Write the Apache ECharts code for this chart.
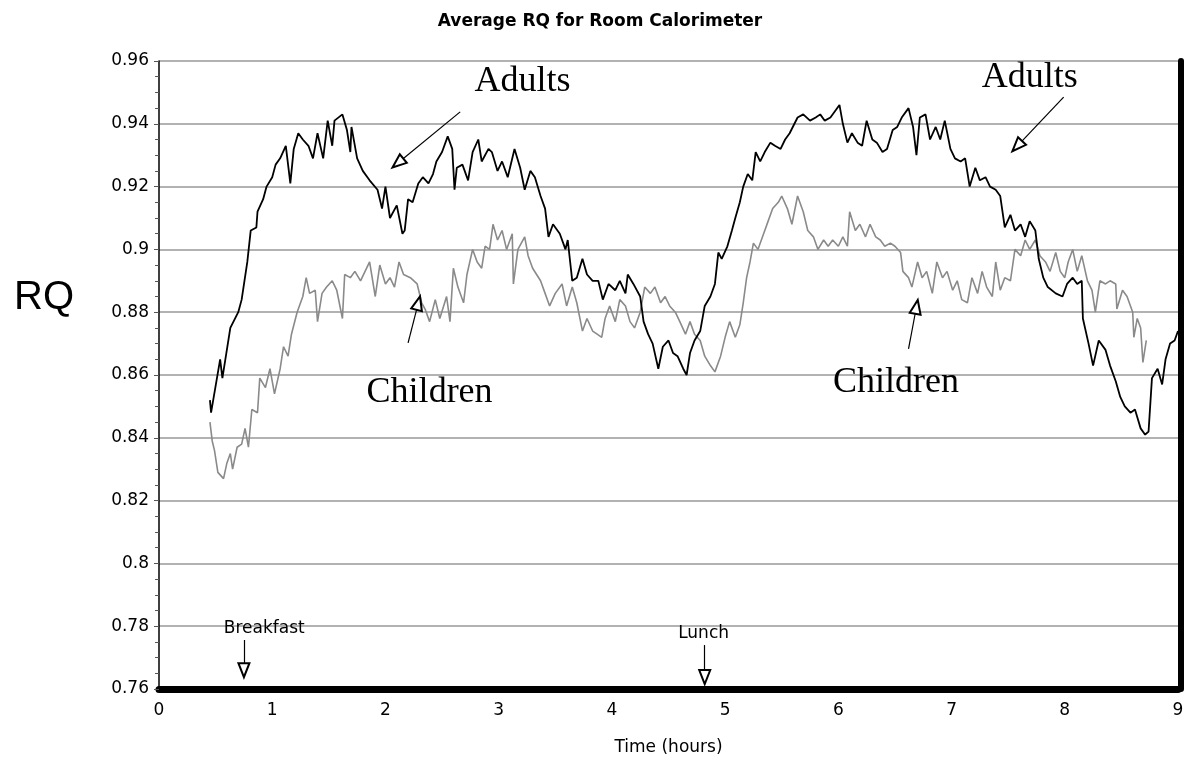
<!DOCTYPE html>
<html>
<head>
<meta charset="utf-8">
<title>Average RQ for Room Calorimeter</title>
<script src="https://cdn.jsdelivr.net/npm/echarts@6/dist/echarts.min.js"></script>
<style>
  html, body { margin: 0; padding: 0; background: #fff; }
  #chart { width: 1200px; height: 773px; }
</style>
</head>
<body>
<div id="chart"></div>
<script>
// time (hours) and RQ
const adultT = [0.45,0.46,0.54,0.56,0.63,0.70,0.73,0.78,0.81,0.86,0.87,0.92,0.95,1.00,1.03,1.07,1.12,1.16,1.19,1.23,
  1.27,1.32,1.36,1.40,1.45,1.49,1.53,1.55,1.62,1.66,1.69,1.70,1.75,1.80,1.86,1.93,1.97,2.00,2.04,2.10,
  2.15,2.17,2.20,2.24,2.29,2.33,2.38,2.42,2.45,2.50,2.55,2.59,2.61,2.63,2.68,2.73,2.77,2.82,2.85,2.91,
  2.94,2.99,3.03,3.08,3.14,3.19,3.23,3.28,3.32,3.37,3.41,3.44,3.48,3.54,3.59,3.61,3.65,3.69,3.74,3.78,
  3.83,3.88,3.92,3.97,4.03,4.07,4.12,4.14,4.19,4.25,4.28,4.32,4.36,4.41,4.45,4.50,4.54,4.58,4.63,4.66,
  4.69,4.73,4.78,4.82,4.87,4.91,4.94,4.97,5.02,5.06,5.09,5.13,5.16,5.20,5.24,5.27,5.31,5.35,5.40,5.44,
  5.49,5.53,5.57,5.64,5.69,5.75,5.80,5.84,5.88,5.93,5.97,6.01,6.04,6.08,6.12,6.17,6.21,6.25,6.30,6.34,
  6.39,6.43,6.48,6.52,6.56,6.62,6.66,6.69,6.72,6.77,6.81,6.86,6.90,6.94,6.99,7.03,7.08,7.12,7.16,7.21,
  7.25,7.30,7.34,7.39,7.43,7.47,7.52,7.56,7.61,7.65,7.69,7.74,7.77,7.81,7.85,7.92,7.98,8.02,8.07,8.11,
  8.15,8.16,8.21,8.25,8.30,8.36,8.40,8.45,8.49,8.53,8.58,8.62,8.67,8.71,8.74,8.77,8.82,8.86,8.89,8.93,
  8.97,9.00];
const adultRQ = [0.852,0.848,0.865,0.859,0.875,0.880,0.884,0.896,0.906,0.907,0.912,0.916,0.920,0.923,0.927,0.929,0.933,0.921,0.932,0.937,
  0.935,0.933,0.929,0.937,0.929,0.941,0.933,0.941,0.943,0.938,0.931,0.939,0.929,0.925,0.922,0.919,0.913,0.920,0.910,0.914,
  0.905,0.906,0.916,0.915,0.921,0.923,0.921,0.924,0.928,0.931,0.936,0.932,0.919,0.926,0.927,0.922,0.931,0.935,0.928,0.932,
  0.931,0.925,0.928,0.923,0.932,0.926,0.919,0.925,0.923,0.917,0.913,0.904,0.908,0.905,0.900,0.903,0.890,0.891,0.897,0.892,
  0.890,0.890,0.884,0.889,0.887,0.890,0.886,0.892,0.889,0.885,0.877,0.873,0.870,0.862,0.869,0.871,0.867,0.866,0.862,0.860,
  0.867,0.871,0.874,0.882,0.885,0.889,0.899,0.897,0.901,0.906,0.910,0.915,0.920,0.924,0.922,0.931,0.928,0.931,0.934,0.933,
  0.932,0.935,0.937,0.942,0.943,0.941,0.942,0.943,0.941,0.942,0.944,0.946,0.940,0.934,0.937,0.934,0.933,0.941,0.935,0.934,
  0.931,0.932,0.938,0.939,0.942,0.945,0.939,0.930,0.942,0.943,0.935,0.939,0.935,0.941,0.932,0.929,0.928,0.929,0.920,0.926,
  0.922,0.923,0.920,0.919,0.917,0.907,0.911,0.906,0.908,0.904,0.909,0.906,0.897,0.891,0.888,0.886,0.885,0.889,0.891,0.889,
  0.890,0.878,0.870,0.863,0.871,0.868,0.863,0.858,0.853,0.850,0.848,0.849,0.843,0.841,0.842,0.859,0.862,0.857,0.865,0.870,
  0.871,0.874];

const childT = [0.45,0.47,0.49,0.52,0.57,0.60,0.63,0.65,0.69,0.73,0.76,0.79,0.82,0.87,0.89,0.94,0.98,1.02,1.07,1.10,
  1.14,1.17,1.22,1.25,1.27,1.30,1.33,1.38,1.40,1.44,1.48,1.53,1.57,1.62,1.64,1.69,1.73,1.78,1.82,1.86,
  1.91,1.95,2.00,2.04,2.08,2.12,2.16,2.22,2.28,2.32,2.35,2.39,2.44,2.48,2.54,2.57,2.60,2.64,2.69,2.72,
  2.77,2.81,2.85,2.88,2.92,2.95,2.99,3.03,3.07,3.12,3.13,3.17,3.23,3.26,3.30,3.37,3.41,3.45,3.50,3.56,
  3.60,3.65,3.69,3.74,3.78,3.83,3.87,3.91,3.94,3.98,4.03,4.07,4.12,4.16,4.20,4.25,4.29,4.34,4.38,4.43,
  4.47,4.51,4.56,4.60,4.65,4.69,4.73,4.78,4.82,4.87,4.91,4.96,5.00,5.04,5.09,5.13,5.16,5.19,5.22,5.25,
  5.29,5.34,5.38,5.42,5.47,5.50,5.55,5.59,5.64,5.69,5.73,5.78,5.82,5.87,5.91,5.95,6.00,6.04,6.08,6.10,
  6.15,6.19,6.24,6.28,6.33,6.37,6.41,6.46,6.50,6.55,6.57,6.62,6.65,6.70,6.74,6.78,6.83,6.87,6.92,6.96,
  7.01,7.05,7.09,7.14,7.18,7.23,7.27,7.31,7.36,7.39,7.43,7.47,7.52,7.56,7.61,7.65,7.69,7.74,7.78,7.83,
  7.87,7.92,7.96,8.00,8.03,8.07,8.11,8.15,8.20,8.24,8.27,8.31,8.36,8.40,8.45,8.46,8.51,8.55,8.60,8.61,
  8.64,8.67,8.69,8.72];
const childRQ = [0.845,0.839,0.836,0.829,0.827,0.832,0.835,0.830,0.837,0.838,0.843,0.837,0.849,0.848,0.859,0.856,0.862,0.854,0.862,0.869,
  0.866,0.873,0.880,0.883,0.885,0.891,0.886,0.887,0.877,0.886,0.888,0.890,0.887,0.878,0.892,0.891,0.893,0.890,0.893,0.896,
  0.885,0.895,0.889,0.891,0.888,0.896,0.892,0.891,0.889,0.883,0.881,0.877,0.884,0.878,0.885,0.877,0.894,0.888,0.883,0.892,
  0.900,0.896,0.894,0.901,0.900,0.908,0.903,0.906,0.900,0.905,0.889,0.900,0.904,0.898,0.894,0.890,0.886,0.882,0.886,0.889,
  0.882,0.888,0.883,0.874,0.878,0.874,0.873,0.872,0.878,0.882,0.877,0.884,0.882,0.877,0.875,0.880,0.888,0.886,0.888,0.883,
  0.885,0.882,0.880,0.877,0.873,0.877,0.873,0.871,0.866,0.863,0.861,0.866,0.872,0.877,0.872,0.876,0.883,0.891,0.896,0.902,
  0.900,0.905,0.909,0.913,0.915,0.917,0.913,0.908,0.917,0.912,0.906,0.904,0.900,0.903,0.901,0.903,0.901,0.904,0.901,0.912,
  0.906,0.908,0.904,0.908,0.904,0.903,0.901,0.902,0.901,0.899,0.893,0.891,0.888,0.896,0.891,0.893,0.886,0.896,0.891,0.893,
  0.887,0.890,0.884,0.883,0.891,0.886,0.893,0.888,0.885,0.896,0.887,0.891,0.890,0.900,0.898,0.903,0.900,0.903,0.898,0.896,
  0.893,0.899,0.893,0.891,0.896,0.900,0.893,0.898,0.890,0.887,0.880,0.890,0.889,0.890,0.889,0.881,0.887,0.885,0.880,0.872,
  0.878,0.875,0.864,0.871];

// annotations: [label, time, RQ]
const noteLabels = [['Adults', 3.21, 0.9533], ['Adults', 7.69, 0.9546], ['Children', 2.39, 0.8543], ['Children', 6.51, 0.8575]];
const mealLabels = [['Breakfast', 0.93, 0.7791], ['Lunch', 4.81, 0.7778]];
// arrows: [fromT, fromRQ, toT, toRQ]
const arrows = [[2.66, 0.9438, 2.11, 0.9275], [7.99, 0.9485, 7.58, 0.9329],
  [2.20, 0.8702, 2.29, 0.8829], [6.62, 0.8683, 6.69, 0.8817],
  [0.75, 0.7756, 0.75, 0.7660], [4.82, 0.7740, 4.82, 0.7638]];

const zip = (a, b) => a.map((t, i) => [t, b[i]]);
const SANS = 'DejaVu Sans';

const chart = echarts.init(document.getElementById('chart'));
chart.setOption({
  animation: false,
  title: {
    text: 'Average RQ for Room Calorimeter',
    left: 'center',
    top: 8,
    textStyle: { fontFamily: SANS, fontSize: 17, fontWeight: 'bold', color: '#000' }
  },
  grid: { left: 159, right: 22, top: 61, bottom: 84 },
  xAxis: {
    type: 'value',
    min: 0,
    max: 9,
    interval: 1,
    name: 'Time (hours)',
    nameLocation: 'middle',
    nameGap: 50,
    nameTextStyle: { fontFamily: SANS, fontSize: 17, color: '#000' },
    axisLine: { lineStyle: { color: '#000', width: 7 } },
    axisTick: { show: false },
    axisLabel: { margin: 13, fontFamily: SANS, fontSize: 17, color: '#000' },
    splitLine: { show: false }
  },
  yAxis: [{
    type: 'value',
    min: 0.76,
    max: 0.96,
    interval: 0.02,
    axisLine: { show: true, lineStyle: { color: '#000', width: 1.5 } },
    axisTick: { show: true, length: 5, lineStyle: { color: '#555' } },
    minorTick: { show: true, splitNumber: 4, length: 4, lineStyle: { color: '#555' } },
    axisLabel: {
      margin: 10,
      fontFamily: SANS,
      fontSize: 17,
      color: '#000',
      formatter: v => String(+v.toFixed(2))
    },
    splitLine: { lineStyle: { color: '#999', width: 1.5 } }
  }, {
    type: 'value',
    position: 'right',
    min: 0.76,
    max: 0.96,
    offset: 3,
    axisLine: { show: true, lineStyle: { color: '#000', width: 6 } },
    axisTick: { show: false },
    axisLabel: { show: false },
    splitLine: { show: false }
  }],
  graphic: [{
    type: 'text',
    left: 14,
    top: 278,
    style: { text: 'RQ', font: '40px "Liberation Sans"', fill: '#000' }
  }],
  series: [{
    name: 'Adults',
    type: 'line',
    data: zip(adultT, adultRQ),
    showSymbol: false,
    lineStyle: { color: '#000', width: 1.8 },
    itemStyle: { color: '#000' },
    z: 3
  }, {
    name: 'Children',
    type: 'line',
    data: zip(childT, childRQ),
    showSymbol: false,
    lineStyle: { color: '#8a8a8a', width: 1.6 },
    itemStyle: { color: '#8a8a8a' },
    z: 2
  }, {
    name: 'notes',
    type: 'scatter',
    symbolSize: 0,
    silent: true,
    itemStyle: { opacity: 1, color: '#000' },
    data: noteLabels.map(d => ({ name: d[0], value: [d[1], d[2]] })),
    label: {
      show: true,
      position: 'inside',
      formatter: '{b}',
      fontFamily: 'Liberation Serif',
      fontSize: 36,
      color: '#000',
      opacity: 1
    },
    markLine: {
      silent: true,
      symbol: ['none', 'emptyTriangle'],
      symbolSize: [11, 14],
      label: { show: false },
      lineStyle: { color: '#000', width: 1.2, type: 'solid', opacity: 1 },
      data: arrows.map(a => [{ coord: [a[0], a[1]] }, { coord: [a[2], a[3]] }])
    }
  }, {
    name: 'meals',
    type: 'scatter',
    symbolSize: 0,
    silent: true,
    itemStyle: { opacity: 1, color: '#000' },
    data: mealLabels.map(d => ({ name: d[0], value: [d[1], d[2]] })),
    label: {
      show: true,
      position: 'inside',
      formatter: '{b}',
      fontFamily: SANS,
      fontSize: 17,
      color: '#000',
      opacity: 1
    }
  }]
});
</script>
</body>
</html>
